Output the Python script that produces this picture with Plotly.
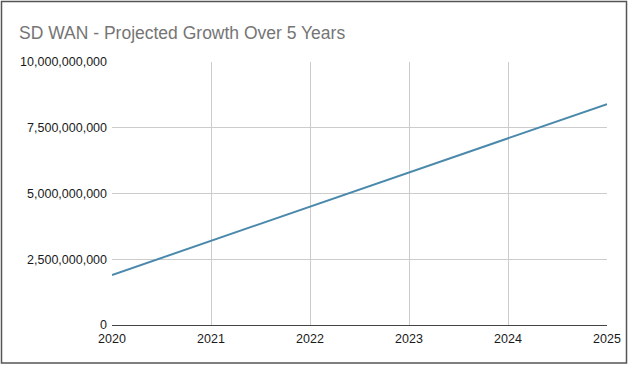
import plotly.graph_objects as go

years = [2020, 2021, 2022, 2023, 2024, 2025]
values = [1.9e9, 3.2e9, 4.5e9, 5.8e9, 7.1e9, 8.4e9]
y_ticks = [0, 2.5e9, 5e9, 7.5e9, 1e10]
y_tick_labels = ["0", "2,500,000,000", "5,000,000,000", "7,500,000,000", "10,000,000,000"]
title = "SD WAN - Projected Growth Over 5 Years"

W, H = 631, 367
ml, mr, mt, mb = 112, 24, 62, 42
pw, ph = W - ml - mr, H - mt - mb

fig = go.Figure()
fig.add_trace(go.Scatter(x=years, y=values, mode="lines",
                         line=dict(color="#4a89ab", width=2), hoverinfo="x+y"))

fig.update_layout(
    width=W, height=H,
    margin=dict(l=ml, r=mr, t=mt, b=mb, autoexpand=False),
    paper_bgcolor="white", plot_bgcolor="white",
    font=dict(family="Liberation Sans, Arial, sans-serif", size=12.5, color="#1a1a1a"),
    title=dict(text=title, x=19 / W, xanchor="left", y=1 - 33 / H, yanchor="middle",
               font=dict(size=17.5, color="#757575")),
    showlegend=False,
    xaxis=dict(range=[2020, 2025], tickvals=years, ticktext=[str(y) for y in years],
               showgrid=True, gridcolor="#cccccc", gridwidth=1, zeroline=False,
               showline=True, linecolor="#444", linewidth=1, ticks="", ticklabelstandoff=2,
               automargin=False),
    yaxis=dict(range=[0, 1e10], tickvals=y_ticks, ticktext=y_tick_labels,
               showgrid=True, gridcolor="#cccccc", gridwidth=1, zeroline=False,
               showline=False, ticks="", ticklabelstandoff=4, automargin=False),
    shapes=[dict(type="rect", xref="paper", yref="paper",
                 x0=-(ml - 1.5) / pw, x1=1 + (mr - 4.5) / pw,
                 y0=-(mb - 4) / ph, y1=1 + (mt - 1.5) / ph,
                 line=dict(color="#555", width=1.5), fillcolor="rgba(0,0,0,0)", layer="above")],
)

fig.write_html("out.html", config={"displayModeBar": False, "responsive": False},
               post_script="document.body.style.margin='0';"
                           "document.body.style.overflow='hidden';"
                           "document.documentElement.style.overflow='hidden';")
